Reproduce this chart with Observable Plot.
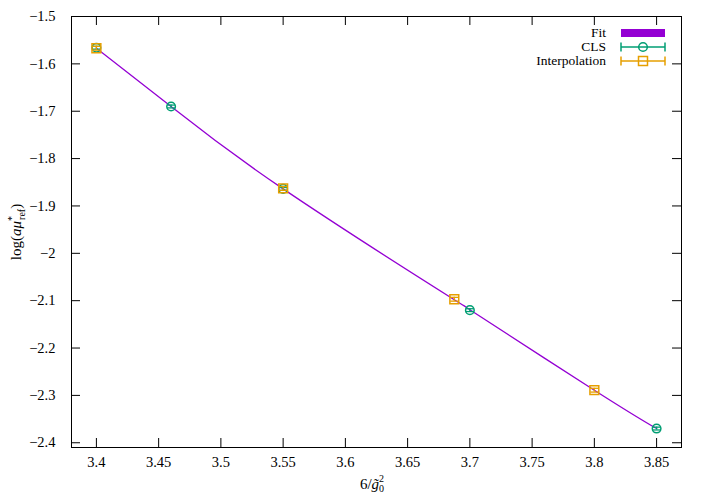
<!DOCTYPE html>
<html>
<head>
<meta charset="utf-8">
<script src="https://cdn.jsdelivr.net/npm/d3@7"></script>
<script src="https://cdn.jsdelivr.net/npm/@observablehq/plot@0.6"></script>
<style>
  html, body { margin: 0; padding: 0; background: white; }
  svg { display: block; }
</style>
</head>
<body>
<div id="chart"></div>
<script>
// ---- data ----
const clsX = [3.40, 3.46, 3.55, 3.70, 3.85];
const clsY = [-1.566, -1.690, -1.864, -2.120, -2.370];
const clsErr = [0.003, 0.003, 0.003, 0.003, 0.003];

const interpX = [3.40, 3.55, 3.6875, 3.80];
const interpY = [-1.567, -1.863, -2.097, -2.289];
const interpErr = [0.004, 0.004, 0.004, 0.004];

const fitX = [3.40, 3.46, 3.55, 3.6875, 3.70, 3.80, 3.85];
const fitY = [-1.567, -1.690, -1.864, -2.098, -2.119, -2.289, -2.370];

const xTicks = [3.4, 3.45, 3.5, 3.55, 3.6, 3.65, 3.7, 3.75, 3.8, 3.85];
const yTicks = [-1.5, -1.6, -1.7, -1.8, -1.9, -2.0, -2.1, -2.2, -2.3, -2.4];

const seriesNames = ["Fit", "CLS", "Interpolation"];
const colors = {Fit: "#9400d3", CLS: "#009e73", Interpolation: "#e69f00"};

// ---- tables ----
const cls = clsX.map((x, i) => ({x, y: clsY[i], e: clsErr[i]}));
const interp = interpX.map((x, i) => ({x, y: interpY[i], e: interpErr[i]}));
const fit = fitX.map((x, i) => ({x, y: fitY[i]}));

const W = 706, H = 499, mL = 71, mR = 25, mT = 16, mB = 52;
const innerH = H - mT - mB, innerW = W - mL - mR;
const tickLen = 9;
const fmt = d3.format("~g");

const capSymbol = {draw(ctx, size) { const w = 4; ctx.moveTo(-w, 0); ctx.lineTo(w, 0); }};

function errMarks(data, color) {
  return [
    Plot.ruleX(data, {x: "x", y1: d => d.y - d.e, y2: d => d.y + d.e, stroke: color, strokeWidth: 1.3}),
    Plot.dot(data, {x: "x", y: d => d.y - d.e, symbol: capSymbol, stroke: color, strokeWidth: 1.3}),
    Plot.dot(data, {x: "x", y: d => d.y + d.e, symbol: capSymbol, stroke: color, strokeWidth: 1.3})
  ];
}

const chart = Plot.plot({
  width: W, height: H,
  marginLeft: mL, marginRight: mR, marginTop: mT, marginBottom: mB,
  x: {domain: [3.38, 3.87]},
  y: {domain: [-2.41, -1.5]},
  style: {fontFamily: "'Liberation Serif', serif", fontSize: "14px", background: "white", color: "black"},
  marks: [
    // inward ticks on all four sides
    Plot.tickX(xTicks, {x: d => d, insetTop: innerH - tickLen, stroke: "black", strokeWidth: 1}),
    Plot.tickX(xTicks, {x: d => d, insetBottom: innerH - tickLen, stroke: "black", strokeWidth: 1}),
    Plot.tickY(yTicks, {y: d => d, insetRight: innerW - tickLen, stroke: "black", strokeWidth: 1}),
    Plot.tickY(yTicks, {y: d => d, insetLeft: innerW - tickLen, stroke: "black", strokeWidth: 1}),
    Plot.axisX(xTicks, {tickSize: 0, tickPadding: 9, label: null, fontSize: 14.5, tickFormat: fmt}),
    Plot.axisY(yTicks, {tickSize: 0, tickPadding: 16, label: null, fontSize: 14.5, tickFormat: fmt}),
    Plot.frame({stroke: "black", strokeWidth: 1}),
    Plot.line(fit, {x: "x", y: "y", stroke: colors.Fit, strokeWidth: 1.3, curve: "natural"}),
    ...errMarks(cls, colors.CLS),
    Plot.dot(cls, {x: "x", y: "y", r: 4.3, symbol: "circle", stroke: colors.CLS, strokeWidth: 1.5, fill: "none"}),
    ...errMarks(interp, colors.Interpolation),
    Plot.dot(interp, {x: "x", y: "y", r: 5, symbol: "square", stroke: colors.Interpolation, strokeWidth: 1.5, fill: "none"})
  ]
});

document.getElementById("chart").appendChild(chart);

// ---- axis titles and legend ----
const svg = d3.select(chart);
const font = "'Liberation Serif', serif";

// x label: 6/g̃0^2
const xl = svg.append("text")
  .attr("x", 372).attr("y", 489)
  .attr("font-family", font).attr("font-size", 15).attr("fill", "black")
  .attr("text-anchor", "middle");
xl.append("tspan").text("6/");
xl.append("tspan").attr("font-style", "italic").text("g\u0303");
xl.append("tspan").attr("font-size", 10).attr("dy", 3).text("0");
xl.append("tspan").attr("font-size", 10).attr("dx", -5).attr("dy", -10).text("2");

// y label: log(aμ*_ref)
const yl = svg.append("text")
  .attr("transform", "translate(21,232) rotate(-90)")
  .attr("font-family", font).attr("font-size", 15).attr("fill", "black")
  .attr("text-anchor", "middle");
yl.append("tspan").text("log(");
yl.append("tspan").attr("font-style", "italic").text("aμ");
yl.append("tspan").attr("font-size", 10).attr("dy", -6).text("*");
yl.append("tspan").attr("font-size", 10).attr("dx", -4).attr("dy", 10).text("ref");
yl.append("tspan").attr("dy", -4).text(")");

// legend
const lg = svg.append("g").attr("font-family", font).attr("font-size", 13.5);
const rows = [33, 47, 61];
const x0 = 621, x1 = 665, xm = 643;
seriesNames.forEach((name, i) => {
  const y = rows[i];
  lg.append("text").attr("x", 606).attr("y", y).attr("dy", "0.33em")
    .attr("text-anchor", "end").attr("fill", "black").text(name);
  const c = colors[name];
  if (name === "Fit") {
    lg.append("rect").attr("x", x0).attr("y", y - 4).attr("width", x1 - x0).attr("height", 8).attr("fill", c);
  } else {
    lg.append("line").attr("x1", x0).attr("x2", x1).attr("y1", y).attr("y2", y).attr("stroke", c).attr("stroke-width", 1.5);
    lg.append("line").attr("x1", x0).attr("x2", x0).attr("y1", y - 4.5).attr("y2", y + 4.5).attr("stroke", c).attr("stroke-width", 1.5);
    lg.append("line").attr("x1", x1).attr("x2", x1).attr("y1", y - 4.5).attr("y2", y + 4.5).attr("stroke", c).attr("stroke-width", 1.5);
    if (name === "CLS") {
      lg.append("circle").attr("cx", xm).attr("cy", y).attr("r", 4.3).attr("fill", "none").attr("stroke", c).attr("stroke-width", 1.5);
    } else {
      lg.append("rect").attr("x", xm - 4.5).attr("y", y - 4.5).attr("width", 9).attr("height", 9).attr("fill", "none").attr("stroke", c).attr("stroke-width", 1.5);
    }
  }
});
</script>
</body>
</html>
